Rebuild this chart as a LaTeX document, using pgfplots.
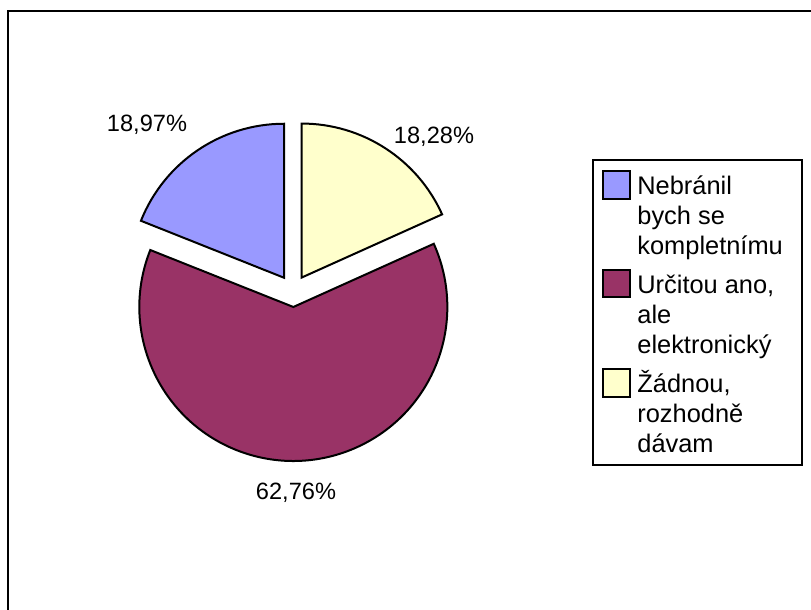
\documentclass[border=0pt]{standalone}
\usepackage{pgfplots}
\pgfplotsset{compat=1.18}
\usepackage{fontspec}
\setmainfont{Liberation Sans}
\definecolor{pieblue}{HTML}{9999FF}
\definecolor{piepurple}{HTML}{993366}
\definecolor{pieyellow}{HTML}{FFFFCC}
% data (percent)
\def\va{18.97}
\def\vb{62.76}
\def\vc{18.28}
\pgfmathsetmacro\aA{90}
\pgfmathsetmacro\aB{\aA+3.6*\va}
\pgfmathsetmacro\aC{\aB+3.6*\vb}
\pgfmathsetmacro\aD{\aC+3.6*\vc}
\pgfmathsetmacro\mA{(\aA+\aB)/2}
\pgfmathsetmacro\mB{(\aB+\aC)/2}
\pgfmathsetmacro\mC{(\aC+\aD)/2}
\begin{document}
\begin{tikzpicture}
\useasboundingbox (0,0) rectangle (405.5pt,305pt);
\clip (0,0) rectangle (405.5pt,305pt);
\begin{axis}[
  x=0.5pt, y=0.5pt, xmin=0, xmax=811, ymin=0, ymax=610,
  hide axis, scale only axis, clip=false,
  anchor=origin, at={(0,0)},
]
% outer frame
\draw[line width=1.4pt] (axis cs:8,599) rectangle (axis cs:830,-20);
% pie slices
\def\r{77pt}
\def\d{8pt}
\draw[fill=pieblue, line width=1pt, line join=miter]
  (axis cs:293,319) ++(\mA:\d) -- ++(\aA:\r) arc[start angle=\aA, end angle=\aB, radius=\r] -- cycle;
\draw[fill=piepurple, line width=1pt, line join=miter]
  (axis cs:293,319) ++(\mB:\d) -- ++(\aB:\r) arc[start angle=\aB, end angle=\aC, radius=\r] -- cycle;
\draw[fill=pieyellow, line width=1pt, line join=miter]
  (axis cs:293,319) ++(\mC:\d) -- ++(\aC:\r) arc[start angle=\aC, end angle=\aD, radius=\r] -- cycle;
% data labels
\begin{scope}[every node/.style={inner sep=0pt, font=\fontsize{11.8}{14}\selectfont}]
\node[anchor=base] at (axis cs:147,478.3) {18,97\%};
\node[anchor=base] at (axis cs:434,466.7) {18,28\%};
\node[anchor=base] at (axis cs:296,110) {62,76\%};
\end{scope}
% legend
\draw[line width=1pt, fill=white] (axis cs:593,450) rectangle (axis cs:801.5,145);
\draw[line width=1pt, fill=pieblue] (axis cs:603,439) rectangle (axis cs:630,411);
\draw[line width=1pt, fill=piepurple] (axis cs:603,340) rectangle (axis cs:630,313);
\draw[line width=1pt, fill=pieyellow] (axis cs:603,241) rectangle (axis cs:630,213);
\begin{scope}[every node/.style={inner sep=0pt, anchor=base west, font=\fontsize{12.7}{15}\selectfont}]
\node at (axis cs:637,415.5) {Nebránil};
\node at (axis cs:637,385.5) {bych se};
\node at (axis cs:637,355.5) {kompletnímu};
\node at (axis cs:637,316.5) {Určitou ano,};
\node at (axis cs:637,286.5) {ale};
\node at (axis cs:637,256.5) {elektronický};
\node at (axis cs:637,217.5) {Žádnou,};
\node at (axis cs:637,187.5) {rozhodně};
\node at (axis cs:637,157.5) {dávam};
\end{scope}
\end{axis}
\end{tikzpicture}
\end{document}
